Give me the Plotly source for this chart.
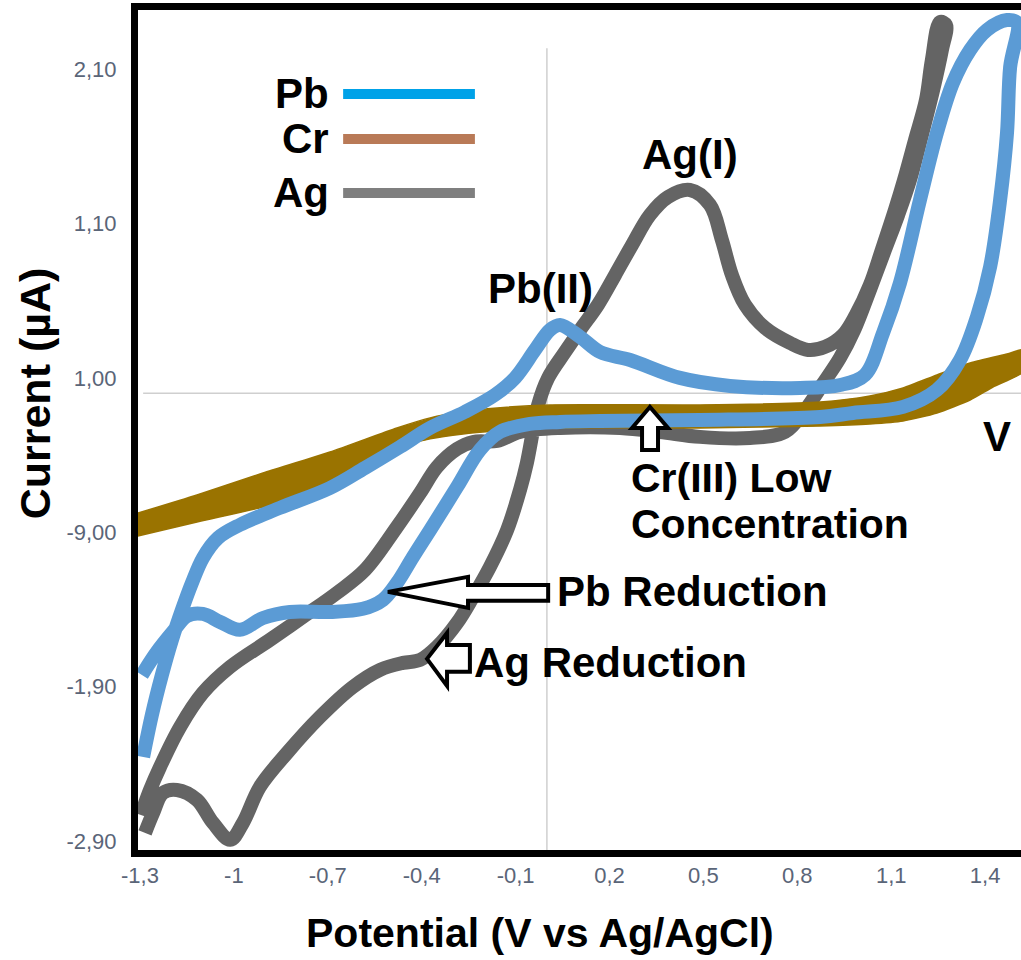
import plotly.graph_objects as go

# ---------------- data (V vs Ag/AgCl, µA) ----------------
pb_v = [-1.290, -1.262, -1.230, -1.198, -1.166, -1.134, -1.099, -1.051, -0.981, -0.853,
        -0.693, -0.581, -0.469, -0.373, -0.262, -0.166, -0.102, -0.038, 0.010, 0.042,
        0.106, 0.170, 0.266, 0.425, 0.585, 0.809, 0.937, 1.016, 1.074, 1.128,
        1.192, 1.246, 1.297, 1.352, 1.406, 1.470, 1.502,
        1.480, 1.470, 1.448, 1.416, 1.374, 1.320, 1.246, 1.138, 0.978, 0.873,
        0.489, 0.170, 0.042, -0.054, -0.150, -0.214, -0.287, -0.373, -0.428, -0.479,
        -0.524, -0.588, -0.693, -0.821, -0.907, -0.981, -1.044, -1.099, -1.150, -1.195,
        -1.246, -1.294]
pb_i = [-2.355, -2.083, -1.824, -1.597, -1.403, -1.228, -1.066, -0.937, -0.852, -0.742,
        -0.613, -0.483, -0.347, -0.224, -0.120, -0.010, 0.100, 0.281, 0.411, 0.443,
        0.365, 0.268, 0.216, 0.100, 0.048, 0.035, 0.054, 0.119, 0.391, 0.715,
        1.253, 1.687, 2.010, 2.224, 2.354, 2.418, 2.399,
        2.114, 1.687, 1.253, 0.819, 0.495, 0.216, 0.022, -0.088, -0.127, -0.153,
        -0.172, -0.179, -0.185, -0.198, -0.250, -0.367, -0.606, -0.885, -1.060, -1.228,
        -1.338, -1.396, -1.416, -1.416, -1.455, -1.532, -1.481, -1.429, -1.442, -1.545,
        -1.675, -1.824]

ag_v = [-1.297, -1.268, -1.236, -1.172, -1.099, -1.012, -0.885, -0.779, -0.671, -0.581,
        -0.479, -0.405, -0.351, -0.287, -0.236, -0.159, -0.086, 0.042, 0.234, 0.361,
        0.489, 0.649, 0.761, 0.825, 0.879, 0.936, 0.982, 1.032, 1.080, 1.122,
        1.160, 1.198, 1.234, 1.262, 1.275,
        1.256, 1.230, 1.211, 1.176, 1.141, 1.112, 1.070, 1.032, 0.987, 0.946,
        0.889, 0.834, 0.777, 0.697, 0.633, 0.591, 0.559, 0.521, 0.457, 0.387,
        0.329, 0.272, 0.218, 0.163, 0.106, 0.058, 0.004, -0.028, -0.044, -0.064,
        -0.086, -0.127, -0.182, -0.236, -0.287, -0.351, -0.405, -0.460, -0.533, -0.620,
        -0.725, -0.830, -0.917, -0.971, -1.012, -1.067, -1.118, -1.182, -1.227, -1.258,
        -1.284]
ag_i = [-2.731, -2.569, -2.420, -2.161, -1.940, -1.772, -1.597, -1.448, -1.293, -1.144,
        -0.865, -0.645, -0.477, -0.360, -0.315, -0.308, -0.250, -0.224, -0.224, -0.250,
        -0.282, -0.289, -0.250, -0.108, 0.054, 0.229, 0.411, 0.670, 0.929, 1.155,
        1.382, 1.674, 1.965, 2.224, 2.386,
        2.405, 2.159, 1.900, 1.641, 1.382, 1.188, 0.929, 0.702, 0.508, 0.378,
        0.301, 0.281, 0.326, 0.424, 0.573, 0.767, 0.994, 1.220, 1.317, 1.272,
        1.155, 0.961, 0.767, 0.573, 0.411, 0.268, 0.100, -0.075, -0.237, -0.451,
        -0.626, -0.885, -1.124, -1.319, -1.487, -1.642, -1.727, -1.746, -1.791, -1.902,
        -2.096, -2.329, -2.549, -2.782, -2.892, -2.782, -2.633, -2.569, -2.588, -2.718,
        -2.847]

cr_v = [-1.330, -1.118, -0.907, -0.693, -0.479, -0.373, -0.268, -0.159, 0.010, 0.489,
        0.873, 1.032, 1.138, 1.246, 1.352, 1.470, 1.530,
        1.530, 1.425, 1.352, 1.246, 1.138, 1.032, 0.873, 0.489, 0.010, -0.159,
        -0.268, -0.373, -0.479, -0.588, -0.693, -0.907, -1.118, -1.330]
cr_i = [-0.790, -0.658, -0.516, -0.380, -0.224, -0.159, -0.120, -0.095, -0.075, -0.075,
        -0.056, -0.017, 0.035, 0.119, 0.197, 0.255, 0.285,
        0.150, 0.041, -0.043, -0.127, -0.179, -0.198, -0.211, -0.224, -0.224, -0.244,
        -0.263, -0.295, -0.354, -0.477, -0.606, -0.736, -0.833, -0.935]

y_tickvals = [2.1, 1.1, 0.1, -0.9, -1.9, -2.9]
y_ticktext = ["2,10", "1,10", "1,00", "-9,00", "-1,90", "-2,90"]
x_tickvals = [-1.3, -1.0, -0.7, -0.4, -0.1, 0.2, 0.5, 0.8, 1.1, 1.4]
x_ticktext = ["-1,3", "-1", "-0,7", "-0,4", "-0,1", "0,2", "0,5", "0,8", "1,1", "1,4"]

legend_names = ["Pb", "Cr", "Ag"]
legend_colors = ["#00a2e8", "#b97a57", "#7f7f7f"]
legend_y = [1.939, 1.648, 1.298]

# ---------------- styles ----------------
C_PB = "#5b9bd5"
C_AG = "#646464"
C_CR = "#9a7300"
FONT = "Liberation Sans, Arial, sans-serif"
TICK_COLOR = "#5a6578"

fig = go.Figure()
fig.add_trace(go.Scatter(x=ag_v, y=ag_i, mode="lines",
                         line=dict(color=C_AG, width=14, shape="spline", smoothing=1.0),
                         showlegend=False, hoverinfo="skip"))
fig.add_trace(go.Scatter(x=cr_v, y=cr_i, mode="lines", fill="toself", fillcolor=C_CR,
                         line=dict(color=C_CR, width=1.5, shape="spline", smoothing=0.6),
                         showlegend=False, hoverinfo="skip"))
fig.add_trace(go.Scatter(x=pb_v, y=pb_i, mode="lines",
                         line=dict(color=C_PB, width=14, shape="spline", smoothing=1.0),
                         showlegend=False, hoverinfo="skip"))

shapes = []
# zero lines
shapes.append(dict(type="line", xref="x", yref="y", x0=-1.29, x1=1.52, y0=0, y1=0,
                   line=dict(color="#cfcfcf", width=1.5), layer="below"))
shapes.append(dict(type="line", xref="x", yref="y", x0=0, x1=0, y0=2.236, y1=-2.96,
                   line=dict(color="#cfcfcf", width=1.5), layer="below"))

# legend swatches
for c, yv in zip(legend_colors, legend_y):
    shapes.append(dict(type="line", xref="x", yref="y", x0=-0.651, x1=-0.230, y0=yv, y1=yv,
                       line=dict(color=c, width=10)))

def poly(pts):
    return "M " + " L ".join(f"{a},{b}" for a, b in pts) + " Z"

arrow_line = dict(color="black", width=4)
# Pb reduction arrow (pointing left)
shapes.append(dict(type="path", xref="x", yref="y", fillcolor="white", line=arrow_line,
                   path=poly([(-0.508, -1.286), (-0.252, -1.189), (-0.252, -1.241), (0.004, -1.241),
                              (0.004, -1.344), (-0.252, -1.344), (-0.252, -1.390)])))
# Ag reduction arrow (pointing left)
shapes.append(dict(type="path", xref="x", yref="y", fillcolor="white", line=arrow_line,
                   path=poly([(-0.383, -1.720), (-0.319, -1.552), (-0.319, -1.630), (-0.246, -1.630),
                              (-0.246, -1.804), (-0.319, -1.804), (-0.319, -1.895)])))
# Cr up arrow
shapes.append(dict(type="path", xref="x", yref="y", fillcolor="white", line=arrow_line,
                   path=poly([(0.329, -0.088), (0.272, -0.224), (0.304, -0.224), (0.304, -0.367),
                              (0.355, -0.367), (0.355, -0.224), (0.387, -0.224)])))

ann = []
BIG = dict(family=FONT, size=42, color="black")
def label(text, x, y, xanchor="left", size=42):
    ann.append(dict(text=f"<b>{text}</b>", x=x, y=y, xref="x", yref="y", showarrow=False,
                    xanchor=xanchor, yanchor="middle", borderpad=0,
                    font=dict(family=FONT, size=size, color="black")))

for n, yv in zip(legend_names, legend_y):
    label(n, -0.693, yv, "right")
label("Ag(I)", 0.457, 1.544, "center")
label("Pb(II)", -0.022, 0.676, "center")
label("V", 1.438, -0.282, "center")
label("Cr(III) Low", 0.266, -0.550, size=41)
label("Concentration", 0.266, -0.845, size=41)
label("Pb Reduction", 0.030, -1.286)
label("Ag Reduction", -0.236, -1.746)

# axis titles
ann.append(dict(text="<b>Current (µA)</b>", textangle=-90, xref="paper", x=0, xshift=-103,
                yref="y", y=0.0, showarrow=False, xanchor="center", yanchor="middle",
                font=dict(family=FONT, size=43, color="black")))
ann.append(dict(text="<b>Potential (V vs Ag/AgCl)</b>", xref="x", x=-0.022, yref="paper", y=0,
                yshift=-83, showarrow=False, xanchor="center", yanchor="middle", borderpad=0,
                font=dict(family=FONT, size=41, color="black")))

fig.update_layout(
    width=1021, height=960,
    margin=dict(l=138, r=0, t=10, b=110),
    paper_bgcolor="white", plot_bgcolor="white",
    showlegend=False,
    shapes=shapes, annotations=ann,
    xaxis=dict(range=[-1.3064, 1.5147], tickvals=x_tickvals, ticktext=x_ticktext,
               showgrid=False, zeroline=False, showline=True, linecolor="black", linewidth=7,
               mirror=True, ticks="", tickfont=dict(family=FONT, size=22, color=TICK_COLOR)),
    yaxis=dict(range=[-2.958, 2.483], tickvals=y_tickvals, ticktext=y_ticktext,
               showgrid=False, zeroline=False, showline=True, linecolor="black", linewidth=7,
               mirror=False, ticks="", ticklabelstandoff=10,
               tickfont=dict(family=FONT, size=22, color=TICK_COLOR)),
)

fig.write_html("out.html")
